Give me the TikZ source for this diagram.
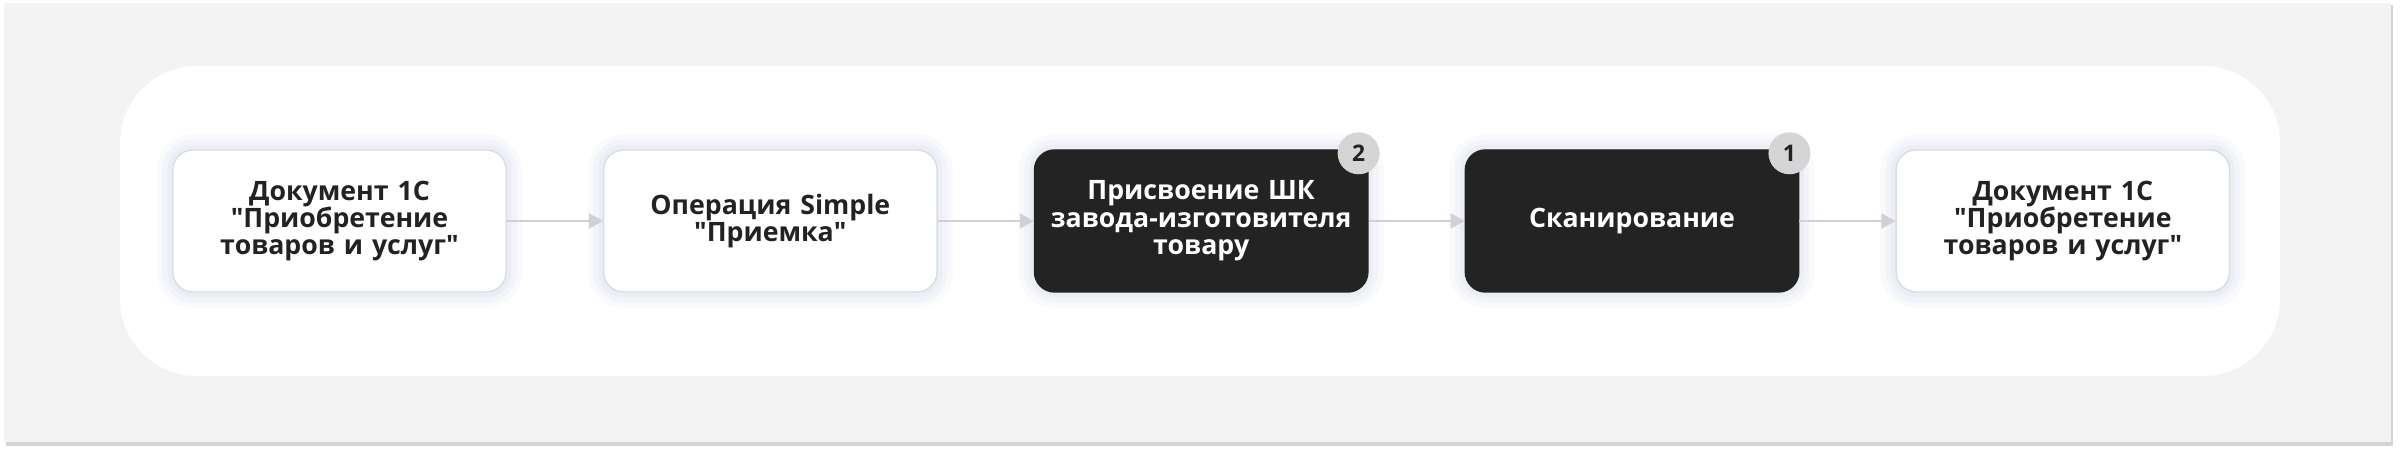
\documentclass[tikz,border=0pt]{standalone}
\usepackage{fontspec}
\setmainfont{Open Sans}
\usetikzlibrary{positioning,arrows.meta}

\definecolor{panelgray}{HTML}{F3F3F4}
\definecolor{panelshade}{HTML}{D4D4D6}
\definecolor{boxdark}{HTML}{232323}
\definecolor{boxline}{HTML}{DADCE3}
\definecolor{boxglow}{HTML}{C9CEEA}
\definecolor{arrowgray}{HTML}{CFD1D6}
\definecolor{badgegray}{HTML}{D5D5D5}
\definecolor{inkdark}{HTML}{222222}

\tikzset{
  stepwhite/.style={draw=boxline, fill=white, rounded corners=0.2cm,
    minimum width=3.33cm, minimum height=1.42cm, text width=3.1cm, align=center,
    font=\bfseries\fontsize{7.6}{7.8}\selectfont, text=inkdark,
    preaction={draw=boxglow, draw opacity=0.10, line width=9pt, fill=none},
    preaction={draw=boxglow, draw opacity=0.12, line width=6pt, fill=none},
    preaction={draw=boxglow, draw opacity=0.15, line width=3pt, fill=none}},
  stepdark/.style={stepwhite, fill=boxdark, draw=boxdark, text=white},
  badge/.style={circle, fill=badgegray, minimum size=0.42cm, inner sep=0pt,
    font=\bfseries\fontsize{6.5}{6.5}\selectfont, text=inkdark},
  flow/.style={draw=arrowgray, line width=0.6pt,
    -{Triangle[length=0.14cm, width=0.15cm]}}
}

\begin{document}
\begin{tikzpicture}
\useasboundingbox (0,0) rectangle (24,4.51);
% panels
\fill[panelshade] (0.06,0.05) rectangle (23.93,4.46);
\fill[panelgray] (0.04,0.09) rectangle (23.91,4.48);
\fill[white, rounded corners=0.77cm] (1.20,0.75) rectangle (22.80,3.85);

% steps
\node[stepwhite] (doc1) at (3.395,2.30) {Документ 1С\\\textquotedbl Приобретение\\товаров и услуг\textquotedbl};
\node[stepwhite] (oper) [right=0.96cm of doc1] {Операция Simple\\\textquotedbl Приемка\textquotedbl};
\node[stepdark] (assign) [right=0.96cm of oper] {Присвоение ШК\\завода-изготовителя\\товару};
\node[stepdark] (scan) [right=0.96cm of assign] {Сканирование};
\node[stepwhite] (doc2) [right=0.96cm of scan] {Документ 1С\\\textquotedbl Приобретение\\товаров и услуг\textquotedbl};

% badges
\node[badge] (badgeassign) at ([xshift=-0.10cm, yshift=-0.04cm]assign.north east) {2};
\node[badge] (badgescan) at ([xshift=-0.10cm, yshift=-0.04cm]scan.north east) {1};

\draw[flow] (doc1) -- (oper);
\draw[flow] (oper) -- (assign);
\draw[flow] (assign) -- (scan);
\draw[flow] (scan) -- (doc2);
\end{tikzpicture}
\end{document}
